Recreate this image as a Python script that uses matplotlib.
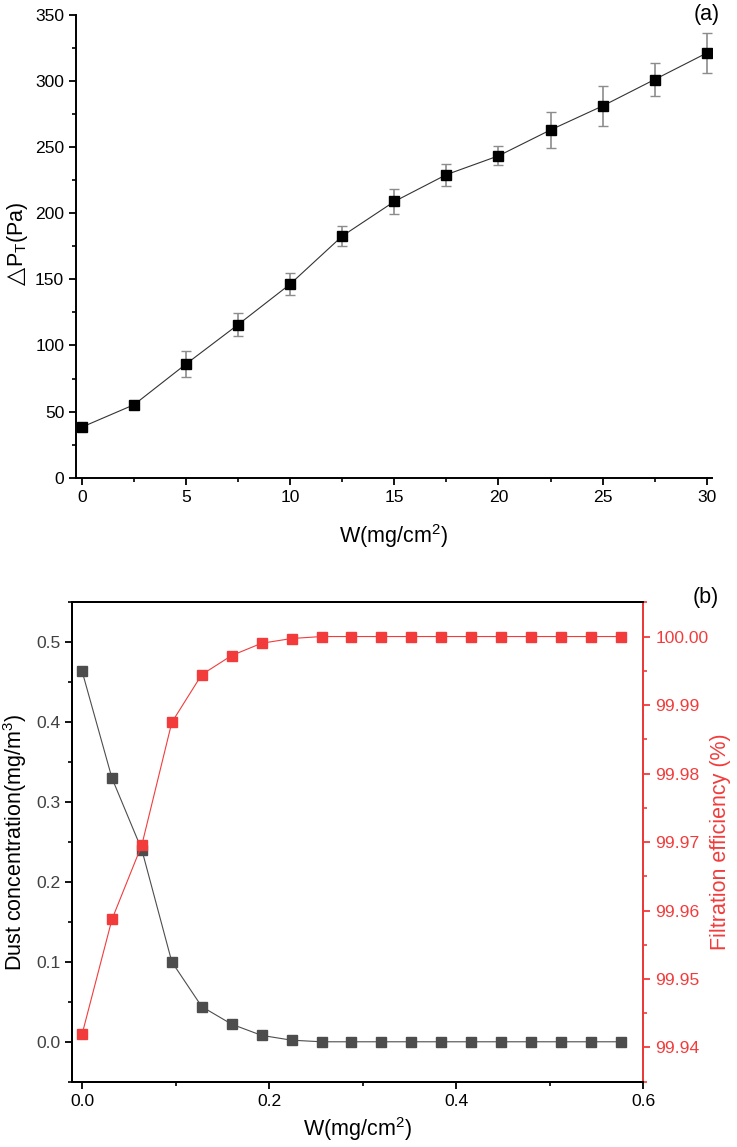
import matplotlib
matplotlib.use("Agg")
import matplotlib.pyplot as plt
from matplotlib.ticker import MultipleLocator, FormatStrFormatter

plt.rcParams['font.family'] = ['Liberation Sans', 'DejaVu Sans']
plt.rcParams['mathtext.default'] = 'regular'

# (a) pressure drop vs dust loading
w_a = [0, 2.5, 5, 7.5, 10, 12.5, 15, 17.5, 20, 22.5, 25, 27.5, 30]
dp = [38.3, 55.2, 86, 115.8, 146.4, 182.7, 208.8, 229.1, 243.3, 262.9, 281, 301, 321]
dp_err = [2, 2, 9.5, 8.5, 8, 7.5, 9.5, 8.3, 7.2, 13.7, 15.2, 12.3, 15]

# (b) dust concentration and filtration efficiency
w_b = [0.0, 0.032, 0.064, 0.096, 0.128, 0.16, 0.192, 0.224, 0.256, 0.288,
       0.32, 0.352, 0.384, 0.416, 0.448, 0.48, 0.512, 0.544, 0.576]
conc = [0.464, 0.33, 0.24, 0.10, 0.044, 0.022, 0.008, 0.002, 0, 0,
        0, 0, 0, 0, 0, 0, 0, 0, 0]
eff = [99.9419, 99.9587, 99.9696, 99.98747, 99.99444, 99.99723, 99.99902,
       99.99971, 100.0, 100.0, 100.0, 100.0, 100.0, 100.0, 100.0, 100.0,
       100.0, 100.0, 100.0]

RED = '#f23c3c'
GRAY = '#4d4d4d'
TICK_FS = 12.6
LABEL_FS = 15.5
W, H = 737, 1147

fig = plt.figure(figsize=(W / 100, H / 100), dpi=100)

# ---- panel (a)
ax1 = fig.add_axes([0.1031, 0.5835, 0.8626, 0.4037])
ax1.errorbar(w_a, dp, yerr=dp_err, fmt='s-', color='#333333', lw=0.8,
             mfc='black', mec='black', ms=7, ecolor='#8c8c8c',
             elinewidth=1.2, capsize=3.5, capthick=1.0)
ax1.set_xlim(-0.29, 30.24)
ax1.set_ylim(0, 350)
ax1.spines['top'].set_visible(False)
ax1.spines['right'].set_visible(False)
for s in ['left', 'bottom']:
    ax1.spines[s].set_linewidth(1.4)
ax1.xaxis.set_major_locator(MultipleLocator(5))
ax1.xaxis.set_minor_locator(MultipleLocator(2.5))
ax1.yaxis.set_major_locator(MultipleLocator(50))
ax1.yaxis.set_minor_locator(MultipleLocator(25))
ax1.tick_params(which='major', length=5, width=1.3, labelsize=TICK_FS)
ax1.tick_params(which='minor', length=3, width=1.2)
ax1.set_xlabel('W(mg/cm$^{2}$)', fontsize=LABEL_FS, labelpad=13)
# y label: open triangle + P_T(Pa), drawn as two rotated texts
fig.text(23 / W, 1 - 285 / H, '△', family=['DejaVu Sans'], fontsize=17,
         rotation=90, rotation_mode='anchor', ha='left', va='baseline')
fig.text(23 / W, 1 - 267 / H, 'P$_{T}$(Pa)', fontsize=LABEL_FS,
         rotation=90, rotation_mode='anchor', ha='left', va='baseline')
fig.text(0.976, 0.987, '(a)', fontsize=LABEL_FS, ha='right', va='center')

# ---- panel (b)
ax2 = fig.add_axes([0.0977, 0.0569, 0.7752, 0.418])
ax2.plot(w_b, conc, 's-', color=GRAY, lw=0.8, ms=6.5, mfc=GRAY, mec=GRAY, zorder=3)
ax2.set_xlim(-0.0107, 0.6)
ax2.set_ylim(-0.05, 0.55)
ax2.xaxis.set_major_locator(MultipleLocator(0.2))
ax2.xaxis.set_minor_locator(MultipleLocator(0.1))
ax2.yaxis.set_major_locator(MultipleLocator(0.1))
ax2.yaxis.set_minor_locator(MultipleLocator(0.05))
ax2.xaxis.set_major_formatter(FormatStrFormatter('%.1f'))
ax2.yaxis.set_major_formatter(FormatStrFormatter('%.1f'))
ax2.tick_params(which='major', length=5, width=1.3, labelsize=TICK_FS)
ax2.tick_params(which='minor', length=3, width=1.2)
ax2.tick_params(axis='y', labelcolor='#404040')
ax2.set_xlabel('W(mg/cm$^{2}$)', fontsize=LABEL_FS, labelpad=5)
ax2.set_ylabel('Dust concentration(mg/m$^{3}$)', fontsize=LABEL_FS, labelpad=5)
for s in ax2.spines.values():
    s.set_linewidth(1.4)

ax3 = ax2.twinx()
ax3.plot(w_b, eff, 's-', color=RED, lw=0.8, ms=6.5, mfc=RED, mec=RED, zorder=3)
ax3.set_ylim(99.935, 100.005)
ax3.yaxis.set_major_locator(MultipleLocator(0.01))
ax3.yaxis.set_minor_locator(MultipleLocator(0.005))
ax3.yaxis.set_major_formatter(FormatStrFormatter('%.2f'))
ax3.tick_params(which='major', length=5, width=1.3, labelsize=TICK_FS, colors=RED)
ax3.tick_params(which='minor', length=3, width=1.2, colors=RED)
for s in ax3.spines.values():
    s.set_linewidth(1.4)
ax3.spines['right'].set_color(RED)
ax3.set_ylabel('Filtration efficiency (%)', fontsize=LABEL_FS, color=RED, labelpad=1)
fig.text(0.976, 0.479, '(b)', fontsize=LABEL_FS, ha='right', va='center')

fig.savefig('out.png', dpi=100)
